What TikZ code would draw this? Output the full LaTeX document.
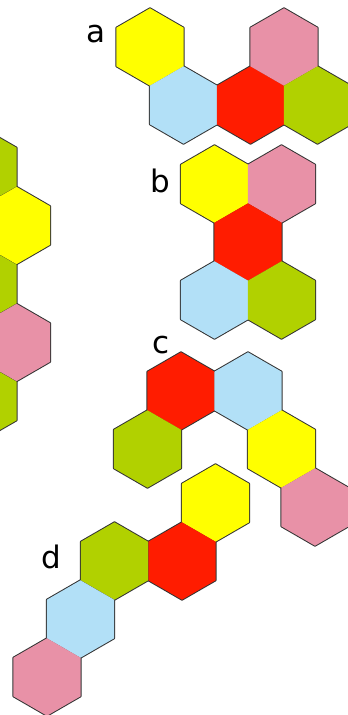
\documentclass[tikz,border=0pt]{standalone}
\usepackage{fontspec}
\setmainfont{DejaVu Sans}
\definecolor{hy}{HTML}{FFFF00}
\definecolor{hb}{HTML}{B2E0F7}
\definecolor{hr}{HTML}{FF1C00}
\definecolor{hp}{HTML}{E891A7}
\definecolor{hg}{HTML}{B1D100}
\definecolor{hline}{HTML}{333333}
\def\hexlist{%
150/47/hy, 183.5/105/hb, 250.5/105/hr, 284/47/hp, 317.5/105/hg,
214.5/184/hy, 281.5/184/hp, 248/242/hr, 214.5/300/hb, 281.5/300/hg,
181/391/hr, 248/391/hb, 147.5/449/hg, 281.5/449/hy, 315/507/hp,
215.5/503/hy, 182/561/hr, 114.5/561/hg, 80.5/619/hb, 47/677/hp,
-17/167/hg, 16.5/225.5/hy, -17/284/hg, 16.5/342.5/hp, -17/401/hg}
\newcommand{\hexat}[2]{(#1,#2) +(90:38.7) -- +(30:38.7) -- +(-30:38.7) -- +(-90:38.7) -- +(-150:38.7) -- +(150:38.7) -- cycle}
\tikzset{
  hexedge/.style={draw=hline, line width=2pt, line join=round},
  hexfill/.style={fill=#1},
  lbl/.style={anchor=base, inner sep=0pt, font=\fontsize{31}{31}\selectfont, text=black}
}
\begin{document}
\begin{tikzpicture}[x=1pt, y=-1pt]
\useasboundingbox (0,0) rectangle (348,715);
\fill[white] (0,0) rectangle (348,715);
\clip (0,0) rectangle (348,715);
\foreach \x/\y/\c in \hexlist { \path[hexedge] \hexat{\x}{\y}; }
\foreach \x/\y/\c in \hexlist { \path[hexfill=\c] \hexat{\x}{\y}; }
\node[lbl] (la) at (96,42) {a};
\node[lbl] (lb) at (160.5,192) {b};
\node[lbl] (lc) at (161,353) {c};
\node[lbl] (ld) at (51.5,568) {d};
\end{tikzpicture}
\end{document}
